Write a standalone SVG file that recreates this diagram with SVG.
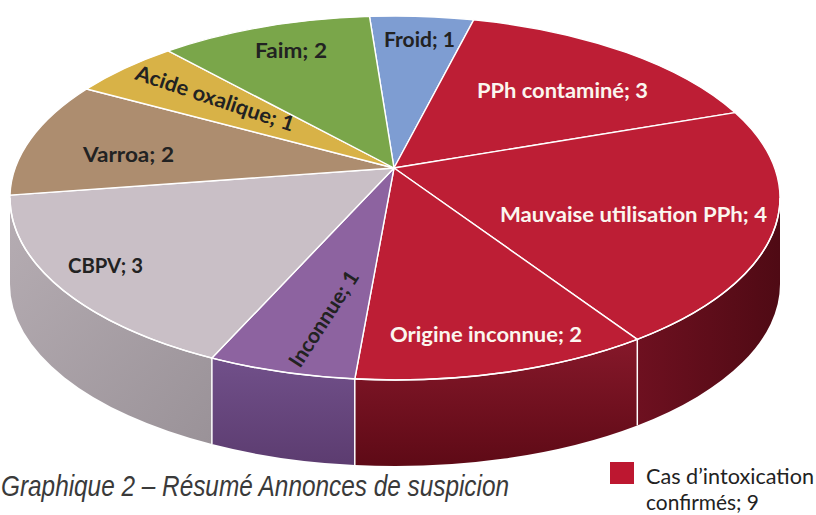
<svg xmlns="http://www.w3.org/2000/svg" width="816" height="515" viewBox="0 0 816 515">
<defs>
<linearGradient id="gRedSide" x1="0" y1="0" x2="0" y2="1">
<stop offset="0" stop-color="#86182a"/><stop offset="1" stop-color="#5e0a16"/>
</linearGradient>
<linearGradient id="gRedSide2" x1="0" y1="0" x2="1" y2="0">
<stop offset="0" stop-color="#6e1020"/><stop offset="1" stop-color="#4f0a14"/>
</linearGradient>
<linearGradient id="gGraySide" x1="0" y1="0" x2="1" y2="1">
<stop offset="0" stop-color="#b6adb3"/><stop offset="1" stop-color="#9a9298"/>
</linearGradient>
<linearGradient id="gPurpleSide" x1="0" y1="0" x2="0" y2="1">
<stop offset="0" stop-color="#71508a"/><stop offset="1" stop-color="#5c3c70"/>
</linearGradient>
</defs>
<style>
.top{stroke:#ffffff;stroke-width:1.4;stroke-linejoin:round}
.side{stroke:none}
.sep{stroke:#ffffff;stroke-width:1.5;fill:none}
.lbl{font-family:Lato,"Open Sans","Liberation Sans",sans-serif;font-weight:bold;font-size:21px;fill:#222222}
.lblw{font-family:Lato,"Open Sans","Liberation Sans",sans-serif;font-weight:bold;font-size:21px;fill:#fbf6ef}
.title{font-family:"Liberation Sans",Arial,sans-serif;font-style:italic;font-size:29px;fill:#3a3a3a}
.leg{font-family:Lato,"Open Sans","Liberation Sans",sans-serif;font-size:22px;fill:#222222}
</style>
<rect width="816" height="515" fill="#ffffff"/>

<g id="sides">
<path class="side" d="M780,198 A385,182 0 0 1 637.3,339.4 L637.3,425.4 A385,182 0 0 0 780,284 Z" fill="url(#gRedSide2)"/>
<path class="side" d="M637.3,339.4 A385,182 0 0 1 354.8,379 L354.8,465 A385,182 0 0 0 637.3,425.4 Z" fill="url(#gRedSide)"/>
<path class="side" d="M354.8,379 A385,182 0 0 1 211.9,358.1 L211.9,444.1 A385,182 0 0 0 354.8,465 Z" fill="url(#gPurpleSide)"/>
<path class="side" d="M211.9,358.1 A385,182 0 0 1 10,198 L10,284 A385,182 0 0 0 211.9,444.1 Z" fill="url(#gGraySide)"/>
</g>

<g id="froid">
<path class="top" d="M394,168 L369.5,16.4 A385,182 0 0 1 473.7,19.8 Z" fill="#7e9dd2"/>
<text class="lbl" x="384" y="47" textLength="71" lengthAdjust="spacingAndGlyphs">Froid; 1</text>
</g>
<g id="pph-contamine">
<path class="top" d="M394,168 L473.7,19.8 A385,182 0 0 1 735,112.6 Z" fill="#bd1e35"/>
<text class="lblw" x="477" y="98" textLength="171" lengthAdjust="spacingAndGlyphs">PPh contaminé; 3</text>
</g>
<g id="mauvaise-utilisation">
<path class="top" d="M394,168 L735,112.6 A385,182 0 0 1 637.3,339.4 Z" fill="#bd1e35"/>
<text class="lblw" x="500" y="222" textLength="267" lengthAdjust="spacingAndGlyphs">Mauvaise utilisation PPh; 4</text>
</g>
<g id="origine-inconnue">
<path class="top" d="M394,168 L637.3,339.4 A385,182 0 0 1 354.8,379 Z" fill="#bd1e35"/>
<text class="lblw" x="390" y="342" textLength="192" lengthAdjust="spacingAndGlyphs">Origine inconnue; 2</text>
</g>
<g id="inconnue">
<path class="top" d="M394,168 L354.8,379 A385,182 0 0 1 211.9,358.1 Z" fill="#8d63a0"/>
<text class="lbl" x="300" y="369" textLength="110" lengthAdjust="spacingAndGlyphs" transform="rotate(-57 300 369)">Inconnue; 1</text>
</g>
<g id="cbpv">
<path class="top" d="M394,168 L211.9,358.1 A385,182 0 0 1 10,195.1 Z" fill="#c9bfc6"/>
<text class="lbl" x="68" y="273" textLength="75" lengthAdjust="spacingAndGlyphs">CBPV; 3</text>
</g>
<g id="varroa">
<path class="top" d="M394,168 L10,195.1 A385,182 0 0 1 86.7,89 Z" fill="#ad8d6f"/>
<text class="lbl" x="83" y="162" textLength="91" lengthAdjust="spacingAndGlyphs">Varroa; 2</text>
</g>
<g id="acide-oxalique">
<path class="top" d="M394,168 L86.7,89 A385,182 0 0 1 168.2,50.9 Z" fill="#d8b247"/>
<text class="lbl" x="134" y="79" textLength="166" lengthAdjust="spacingAndGlyphs" transform="rotate(18.5 134 79)">Acide oxalique; 1</text>
</g>
<g id="faim">
<path class="top" d="M394,168 L168.2,50.9 A385,182 0 0 1 369.5,16.4 Z" fill="#7aa64a"/>
<text class="lbl" x="255" y="58" textLength="72" lengthAdjust="spacingAndGlyphs">Faim; 2</text>
</g>

<g id="rim">
<path class="sep" stroke-width="2" d="M780,198 A385,182 0 0 1 10,198"/>
<line class="sep" x1="637.3" y1="339.4" x2="637.3" y2="425.4"/>
<line class="sep" x1="354.8" y1="379" x2="354.8" y2="465"/>
<line class="sep" x1="211.9" y1="358.1" x2="211.9" y2="444.1"/>
</g>

<g id="title">
<text class="title" x="1" y="496" textLength="508" lengthAdjust="spacingAndGlyphs">Graphique 2 – Résumé Annonces de suspicion</text>
</g>

<g id="legend">
<rect x="610" y="462" width="24" height="22" fill="#bd1730"/>
<text class="leg" x="646" y="484" textLength="168" lengthAdjust="spacingAndGlyphs">Cas d’intoxication</text>
<text class="leg" x="646" y="510" textLength="113" lengthAdjust="spacingAndGlyphs">confirmés; 9</text>
</g>
</svg>
